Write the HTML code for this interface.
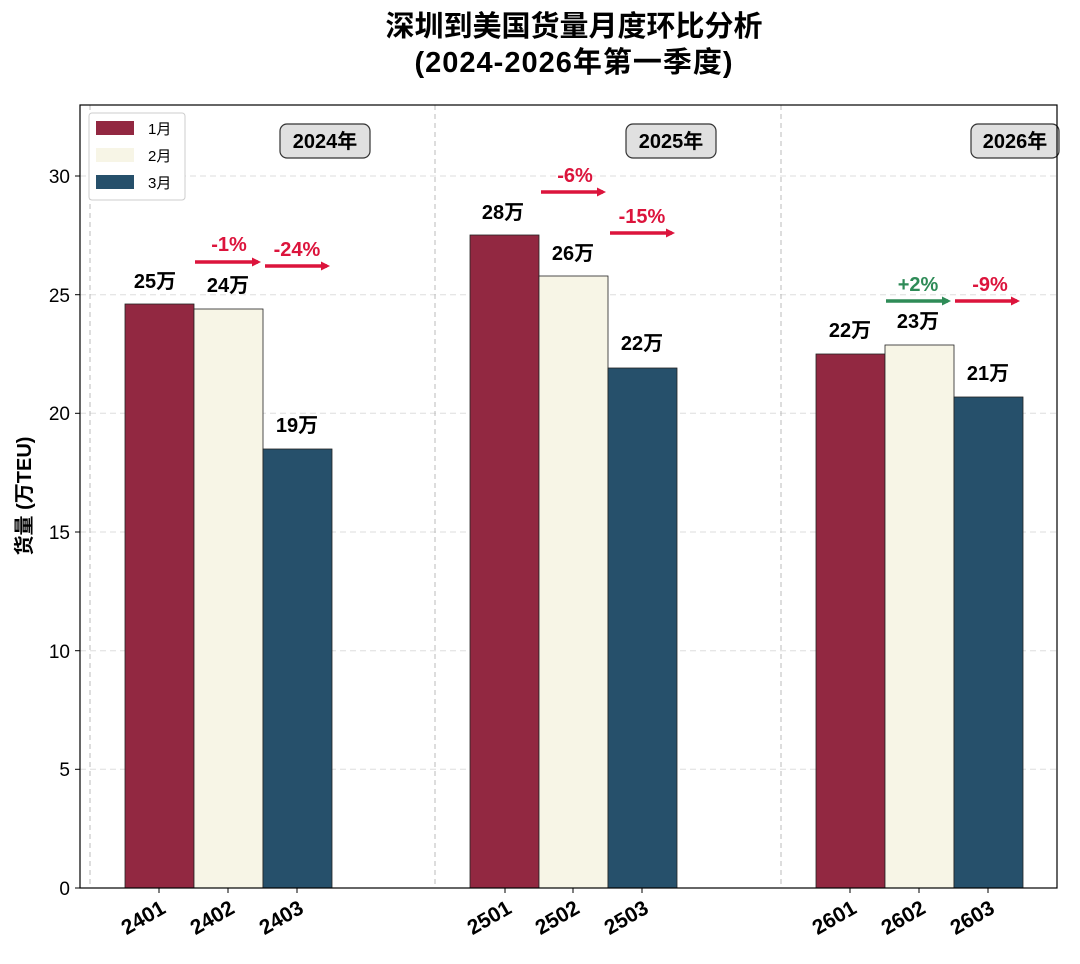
<!DOCTYPE html>
<html><head><meta charset="utf-8"><style>
html,body{margin:0;padding:0;background:#fff;}
svg text{font-family:"Liberation Sans","Noto Sans CJK SC",sans-serif;}
</style></head><body>
<svg width="1080" height="959" viewBox="0 0 1080 959" xmlns="http://www.w3.org/2000/svg">
<defs>
<marker id="ar" markerWidth="9" markerHeight="9" refX="6" refY="4.5" orient="auto" markerUnits="userSpaceOnUse"><path d="M0,0 L9,4.5 L0,9 z" fill="#dc143c"/></marker>
<marker id="ag" markerWidth="9" markerHeight="9" refX="6" refY="4.5" orient="auto" markerUnits="userSpaceOnUse"><path d="M0,0 L9,4.5 L0,9 z" fill="#2e8b57"/></marker>
</defs>
<text x="574" y="36" text-anchor="middle" font-size="29" font-weight="bold">深圳到美国货量月度环比分析</text>
<text x="574" y="72" text-anchor="middle" font-size="29" font-weight="bold" letter-spacing="1">(2024-2026年第一季度)</text>
<!-- grid -->
<g stroke="#ddd" stroke-dasharray="6,4" stroke-width="1">
<line x1="80" x2="1057" y1="769.3" y2="769.3"/><line x1="80" x2="1057" y1="650.7" y2="650.7"/>
<line x1="80" x2="1057" y1="532" y2="532"/><line x1="80" x2="1057" y1="413.3" y2="413.3"/>
<line x1="80" x2="1057" y1="294.7" y2="294.7"/><line x1="80" x2="1057" y1="176" y2="176"/>
</g>
<g stroke="#bbb" stroke-dasharray="5,4" stroke-width="1">
<line x1="90" x2="90" y1="105" y2="888"/><line x1="435" x2="435" y1="105" y2="888"/><line x1="781" x2="781" y1="105" y2="888"/>
</g>
<!-- bars -->
<g stroke="#222" stroke-width="0.8">
<rect x="125" y="304" width="69" height="584" fill="#922841"/>
<rect x="194" y="309" width="69" height="579" fill="#f7f5e6"/>
<rect x="263" y="449" width="69" height="439" fill="#26506b"/>
<rect x="470" y="235" width="69" height="653" fill="#922841"/>
<rect x="539" y="276" width="69" height="612" fill="#f7f5e6"/>
<rect x="608" y="368" width="69" height="520" fill="#26506b"/>
<rect x="816" y="354" width="69" height="534" fill="#922841"/>
<rect x="885" y="345" width="69" height="543" fill="#f7f5e6"/>
<rect x="954" y="397" width="69" height="491" fill="#26506b"/>
</g>
<!-- value labels -->
<g font-size="20" font-weight="bold" text-anchor="middle">
<text x="155" y="288">25万</text><text x="228" y="292">24万</text><text x="297" y="432">19万</text>
<text x="503" y="219">28万</text><text x="573" y="260">26万</text><text x="642" y="350">22万</text>
<text x="850" y="337">22万</text><text x="918" y="328">23万</text><text x="988" y="380">21万</text>
</g>
<!-- arrows -->
<g stroke-width="3.5" fill="none">
<line x1="195" y1="262" x2="258" y2="262" stroke="#dc143c" marker-end="url(#ar)"/>
<line x1="265" y1="266" x2="327" y2="266" stroke="#dc143c" marker-end="url(#ar)"/>
<line x1="541" y1="192" x2="603" y2="192" stroke="#dc143c" marker-end="url(#ar)"/>
<line x1="610" y1="233" x2="672" y2="233" stroke="#dc143c" marker-end="url(#ar)"/>
<line x1="886" y1="301" x2="948" y2="301" stroke="#2e8b57" marker-end="url(#ag)"/>
<line x1="955" y1="301" x2="1017" y2="301" stroke="#dc143c" marker-end="url(#ar)"/>
</g>
<g font-size="20" font-weight="bold" text-anchor="middle" fill="#dc143c">
<text x="229" y="251">-1%</text><text x="297" y="256">-24%</text>
<text x="575" y="182">-6%</text><text x="642" y="223">-15%</text>
<text x="918" y="291" fill="#2e8b57">+2%</text><text x="990" y="291">-9%</text>
</g>
<!-- year boxes -->
<g font-size="20" font-weight="bold" text-anchor="middle">
<rect x="280" y="124" width="90" height="34" rx="7" fill="#e0e0e0" stroke="#333" stroke-width="1.2"/>
<text x="325" y="148">2024年</text>
<rect x="626" y="124" width="90" height="34" rx="7" fill="#e0e0e0" stroke="#333" stroke-width="1.2"/>
<text x="671" y="148">2025年</text>
<rect x="971" y="124" width="88" height="34" rx="7" fill="#e0e0e0" stroke="#333" stroke-width="1.2"/>
<text x="1015" y="148">2026年</text>
</g>
<!-- axes -->
<rect x="80" y="105" width="977" height="783" fill="none" stroke="#000" stroke-width="1.2"/>
<g stroke="#000" stroke-width="1">
<line x1="75" x2="80" y1="888" y2="888"/><line x1="75" x2="80" y1="769.3" y2="769.3"/><line x1="75" x2="80" y1="650.7" y2="650.7"/>
<line x1="75" x2="80" y1="532" y2="532"/><line x1="75" x2="80" y1="413.3" y2="413.3"/><line x1="75" x2="80" y1="294.7" y2="294.7"/><line x1="75" x2="80" y1="176" y2="176"/>
<line x1="159" x2="159" y1="888" y2="893"/><line x1="228" x2="228" y1="888" y2="893"/><line x1="297" x2="297" y1="888" y2="893"/>
<line x1="505" x2="505" y1="888" y2="893"/><line x1="573" x2="573" y1="888" y2="893"/><line x1="642" x2="642" y1="888" y2="893"/>
<line x1="850" x2="850" y1="888" y2="893"/><line x1="919" x2="919" y1="888" y2="893"/><line x1="988" x2="988" y1="888" y2="893"/>
</g>
<g font-size="19" text-anchor="end">
<text x="70" y="895">0</text><text x="70" y="776">5</text><text x="70" y="658">10</text><text x="70" y="539">15</text>
<text x="70" y="420">20</text><text x="70" y="302">25</text><text x="70" y="183">30</text>
</g>
<g font-size="21" font-weight="bold" text-anchor="end">
<text transform="translate(167,912) rotate(-30)">2401</text>
<text transform="translate(236,912) rotate(-30)">2402</text>
<text transform="translate(305,912) rotate(-30)">2403</text>
<text transform="translate(513,912) rotate(-30)">2501</text>
<text transform="translate(581,912) rotate(-30)">2502</text>
<text transform="translate(650,912) rotate(-30)">2503</text>
<text transform="translate(858,912) rotate(-30)">2601</text>
<text transform="translate(927,912) rotate(-30)">2602</text>
<text transform="translate(996,912) rotate(-30)">2603</text>
</g>
<text transform="translate(31,496) rotate(-90)" font-size="20" font-weight="bold" text-anchor="middle">货量 (万TEU)</text>
<!-- legend -->
<rect x="89" y="113" width="96" height="87" rx="3" fill="#fff" stroke="#ccc"/>
<rect x="96" y="121" width="38" height="14" fill="#922841"/>
<rect x="96" y="148" width="38" height="14" fill="#f7f5e6"/>
<rect x="96" y="175" width="38" height="14" fill="#26506b"/>
<g font-size="15"><text x="148" y="134">1月</text><text x="148" y="161">2月</text><text x="148" y="188">3月</text></g>
</svg>
</body></html>
